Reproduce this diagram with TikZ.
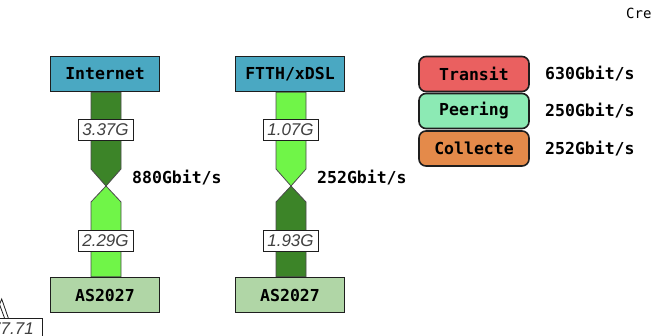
\documentclass[tikz,border=0pt]{standalone}
\usepackage{fontspec}
\setmainfont{Liberation Sans}
\newfontfamily\boxfont{DejaVu Sans Mono}
\usetikzlibrary{calc}
\definecolor{teal}{RGB}{74,168,194}
\definecolor{asgreen}{RGB}{176,214,166}
\definecolor{darkbar}{RGB}{60,132,40}
\definecolor{lightbar}{RGB}{112,245,72}
\definecolor{transit}{RGB}{234,96,96}
\definecolor{peering}{RGB}{140,234,180}
\definecolor{collecte}{RGB}{228,138,74}
\definecolor{edge}{RGB}{30,30,30}
\tikzset{
  srcbox/.style={draw=edge, line width=1.4pt, fill=teal, minimum width=109pt, minimum height=35pt, inner sep=0pt, font=\boxfont\bfseries\fontsize{16.5}{18}\selectfont},
  asbox/.style={srcbox, fill=asgreen},
  legbox/.style={draw=edge, line width=1.6pt, rounded corners=7pt, minimum width=110pt, minimum height=35pt, inner sep=0pt, font=\boxfont\bfseries\fontsize{16.5}{18}\selectfont},
  valtext/.style={anchor=west, inner sep=0pt, font=\boxfont\bfseries\fontsize{16.5}{18}\selectfont},
  ratelab/.style={draw=edge, line width=1pt, fill=white, minimum width=55pt, minimum height=21pt, inner sep=1pt, text=black!75, font=\itshape\fontsize{17}{18}\selectfont},
  barline/.style={draw=edge!80, line width=0.8pt},
}
\begin{document}
\begin{tikzpicture}[x=1pt,y=-1pt]
\useasboundingbox (0,0) rectangle (652,336);
% top boxes
\node[srcbox] (inet) at (105,74) {Internet};
\node[srcbox] (ftth) at (290,74) {FTTH/xDSL};
\node[asbox] (as1) at (105,295) {AS2027};
\node[asbox] (as2) at (290,295) {AS2027};
\coordinate (m1) at (106,186);
\coordinate (m2) at (291,186);
% column 1 bars
\path[barline, fill=darkbar] ($(inet.south)+(-14,0)$) -- ($(inet.south)+(16,0)$) -- ($(m1)+(15,-17)$) -- (m1) -- ($(m1)+(-15,-17)$) -- cycle;
\path[barline, fill=lightbar] (m1) -- ($(m1)+(15,16)$) -- ($(as1.north)+(16,0)$) -- ($(as1.north)+(-14,0)$) -- ($(m1)+(-15,16)$) -- cycle;
% column 2 bars
\path[barline, fill=lightbar] ($(ftth.south)+(-14,0)$) -- ($(ftth.south)+(16,0)$) -- ($(m2)+(15,-17)$) -- (m2) -- ($(m2)+(-15,-17)$) -- cycle;
\path[barline, fill=darkbar] (m2) -- ($(m2)+(15,16)$) -- ($(as2.north)+(16,0)$) -- ($(as2.north)+(-14,0)$) -- ($(m2)+(-15,16)$) -- cycle;
% redraw boxes on top
\node[srcbox] at (inet) {Internet};
\node[srcbox] at (ftth) {FTTH/xDSL};
\node[asbox] at (as1) {AS2027};
\node[asbox] at (as2) {AS2027};
% rate labels
\node[ratelab] (l1) at (105.5,130) {3.37G};
\node[ratelab] (l2) at (105.5,241) {2.29G};
\node[ratelab] (l3) at (290.5,130) {1.07G};
\node[ratelab] (l4) at (290.5,241) {1.93G};
% totals
\node[valtext] (t1) at (132,178) {880Gbit/s};
\node[valtext] (t2) at (317,178) {252Gbit/s};
% legend
\node[legbox, fill=transit] (tr) at (474,74) {Transit};
\node[legbox, fill=peering] (pe) at (474,111) {Peering};
\node[legbox, fill=collecte] (co) at (474,148.5) {Collecte};
\node[valtext] (v1) at (545,74) {630Gbit/s};
\node[valtext] (v2) at (545,111) {250Gbit/s};
\node[valtext] (v3) at (545,148.5) {252Gbit/s};
% top-right cut text
\node[anchor=west, inner sep=0pt, font=\boxfont\fontsize{14}{15}\selectfont] (cre) at (626,13) {Cre};
% bottom-left fragments
\coordinate (ta) at (1.7,299);
\coordinate (tb) at (8.3,318);
\coordinate (tc) at (-6,318);
\coordinate (td) at (-1,303);
\coordinate (te) at (4.5,318);
\draw[edge, line width=0.8pt] (tc) -- (ta) -- (tb);
\draw[edge, line width=0.8pt] (td) -- (te);
\node[ratelab, anchor=north east, minimum width=60pt] (l5) at (43,318) {77.71};
\end{tikzpicture}
\end{document}
